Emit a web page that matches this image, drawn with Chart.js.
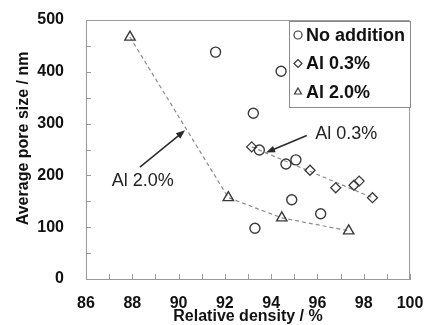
<!DOCTYPE html>
<html>
<head>
<meta charset="utf-8">
<script src="https://cdn.jsdelivr.net/npm/chart.js@4.4.1/dist/chart.umd.min.js"></script>
<style>
  html, body { margin: 0; padding: 0; background: #fff; }
  #wrap { width: 425px; height: 325px; }
</style>
</head>
<body>
<div id="wrap"><canvas id="grafico"></canvas></div>
<script>
// datos
const densidadSin = [91.6, 94.43, 93.23, 93.49, 94.64, 95.07, 94.89, 96.14, 93.3];
const poroSin     = [438, 401, 320, 249, 222, 230, 153, 126, 98];

const densidadAl03 = [93.16, 95.68, 96.79, 97.58, 97.8, 98.38];
const poroAl03     = [255, 210, 176, 181, 189, 157];

const densidadAl20 = [87.9, 92.15, 94.46, 97.35];
const poroAl20     = [467, 157, 118, 93];

const etiquetas = ['No addition', 'Al 0.3%', 'Al 2.0%'];

const puntos = (xs, ys) => xs.map((x, i) => ({ x: x, y: ys[i] }));

const colorMarca = '#3a3a3a';
const colorGuia = '#8c8c8c';
const colorEje = '#9a9a9a';

// linea de tendencia Al 0.3%: del primer al ultimo punto
const tendencia03 = [
  { x: densidadAl03[0], y: poroAl03[0] },
  { x: densidadAl03[densidadAl03.length - 1], y: poroAl03[poroAl03.length - 1] }
];

const extras = {
  id: 'extras',
  afterDraw(chart) {
    const ctx = chart.ctx;
    const area = chart.chartArea;
    const sx = chart.scales.x;
    const sy = chart.scales.y;

    ctx.save();
    // borde superior y derecho
    ctx.strokeStyle = colorEje;
    ctx.lineWidth = 1;
    ctx.beginPath();
    ctx.moveTo(area.left, area.top + 0.5);
    ctx.lineTo(area.right - 0.5, area.top + 0.5);
    ctx.lineTo(area.right - 0.5, area.bottom);
    ctx.stroke();

    // marcas hacia adentro
    ctx.beginPath();
    for (let v = 0; v <= 500; v += 50) {
      const py = Math.round(sy.getPixelForValue(v)) + 0.5;
      ctx.moveTo(area.left, py);
      ctx.lineTo(area.left + 5, py);
    }
    for (let v = 86; v <= 100; v += 1) {
      const px = Math.round(sx.getPixelForValue(v)) + 0.5;
      ctx.moveTo(px, area.bottom);
      ctx.lineTo(px, area.bottom - 5);
    }
    ctx.stroke();

    // flechas con texto
    function flecha(x1, y1, x2, y2) {
      const ax = sx.getPixelForValue(x1), ay = sy.getPixelForValue(y1);
      const bx = sx.getPixelForValue(x2), by = sy.getPixelForValue(y2);
      const ang = Math.atan2(by - ay, bx - ax);
      ctx.strokeStyle = '#2a2a2a';
      ctx.fillStyle = '#2a2a2a';
      ctx.lineWidth = 1.5;
      ctx.beginPath();
      ctx.moveTo(ax, ay);
      ctx.lineTo(bx - 6 * Math.cos(ang), by - 6 * Math.sin(ang));
      ctx.stroke();
      ctx.beginPath();
      ctx.moveTo(bx, by);
      ctx.lineTo(bx - 9 * Math.cos(ang) + 3.5 * Math.sin(ang), by - 9 * Math.sin(ang) - 3.5 * Math.cos(ang));
      ctx.lineTo(bx - 9 * Math.cos(ang) - 3.5 * Math.sin(ang), by - 9 * Math.sin(ang) + 3.5 * Math.cos(ang));
      ctx.closePath();
      ctx.fill();
    }
    flecha(88.33, 216, 90.28, 287);
    flecha(95.54, 277, 93.78, 244);

    ctx.fillStyle = '#222';
    ctx.font = '18px "Liberation Sans", Arial, sans-serif';
    ctx.textBaseline = 'middle';
    ctx.textAlign = 'center';
    ctx.fillText('Al 2.0%', sx.getPixelForValue(88.45), sy.getPixelForValue(190));
    ctx.fillText('Al 0.3%', sx.getPixelForValue(97.25), sy.getPixelForValue(279));

    // leyenda con recuadro
    const lx = 289, ly = 21, lw = 121, lh = 86;
    ctx.fillStyle = '#fff';
    ctx.fillRect(lx, ly, lw, lh);
    ctx.strokeStyle = '#8a8a8a';
    ctx.lineWidth = 1;
    ctx.strokeRect(lx + 0.5, ly + 0.5, lw, lh);
    const estilos = ['circle', 'rectRot', 'triangle'];
    ctx.font = 'bold 18px "Liberation Sans", Arial, sans-serif';
    ctx.textAlign = 'left';
    etiquetas.forEach((txt, i) => {
      const cy = 35 + i * 28.5;
      ctx.strokeStyle = colorMarca;
      ctx.fillStyle = '#fff';
      ctx.lineWidth = 1.2;
      Chart.helpers.drawPoint(ctx, { pointStyle: estilos[i], radius: 4, borderWidth: 1.2 }, 298, cy);
      ctx.fillStyle = '#111';
      ctx.fillText(txt, 306, cy + 1);
    });
    ctx.restore();
  }
};

new Chart(document.getElementById('grafico'), {
  type: 'scatter',
  data: {
    datasets: [
      {
        label: 'tendencia Al 0.3%',
        data: tendencia03,
        showLine: true,
        borderColor: colorGuia,
        borderWidth: 1.2,
        borderDash: [4, 3],
        pointRadius: 0,
        order: 3
      },
      {
        label: etiquetas[2],
        data: puntos(densidadAl20, poroAl20),
        showLine: true,
        borderColor: colorGuia,
        borderWidth: 1.2,
        borderDash: [4, 3],
        pointStyle: 'triangle',
        pointRadius: 6,
        pointBorderColor: colorMarca,
        pointBackgroundColor: 'rgba(255,255,255,0)',
        pointBorderWidth: 1.4,
        order: 2
      },
      {
        label: etiquetas[0],
        data: puntos(densidadSin, poroSin),
        pointStyle: 'circle',
        pointRadius: 5,
        borderColor: colorMarca,
        backgroundColor: 'rgba(255,255,255,0)',
        borderWidth: 1.4,
        order: 1
      },
      {
        label: etiquetas[1],
        data: puntos(densidadAl03, poroAl03),
        pointStyle: 'rectRot',
        pointRadius: 5,
        borderColor: colorMarca,
        backgroundColor: 'rgba(255,255,255,0)',
        borderWidth: 1.3,
        order: 1
      }
    ]
  },
  options: {
    responsive: true,
    maintainAspectRatio: false,
    animation: false,
    events: [],
    layout: { padding: { left: 14, right: 15, top: 20, bottom: 0 } },
    plugins: {
      legend: { display: false },
      tooltip: { enabled: false }
    },
    scales: {
      x: {
        type: 'linear',
        min: 86,
        max: 100,
        afterFit: (scale) => { scale.height = 46; },
        ticks: {
          stepSize: 2,
          padding: 0,
          color: '#111',
          font: { family: '"Liberation Sans", Arial, sans-serif', size: 16, weight: 'bold' }
        },
        grid: { drawOnChartArea: false, drawTicks: true, tickLength: 15, tickColor: 'rgba(0,0,0,0)' },
        border: { color: colorEje, width: 1 },
        title: {
          display: true,
          text: 'Relative density / %',
          color: '#111',
          padding: { top: 0, bottom: 0 },
          font: { family: '"Liberation Sans", Arial, sans-serif', size: 16, weight: 'bold', lineHeight: 1 }
        }
      },
      y: {
        type: 'linear',
        min: 0,
        max: 500,
        afterFit: (scale) => { scale.width = 72; },
        ticks: {
          stepSize: 100,
          padding: 0,
          color: '#111',
          font: { family: '"Liberation Sans", Arial, sans-serif', size: 16, weight: 'bold' }
        },
        grid: { drawOnChartArea: false, drawTicks: true, tickLength: 22, tickColor: 'rgba(0,0,0,0)' },
        border: { color: colorEje, width: 1 },
        title: {
          display: true,
          text: '\u00a0\u00a0\u00a0\u00a0\u00a0Average pore size / nm',
          color: '#111',
          padding: { top: 0, bottom: 0 },
          font: { family: '"Liberation Sans", Arial, sans-serif', size: 16, weight: 'bold', lineHeight: 1.2 }
        }
      }
    }
  },
  plugins: [extras]
});
</script>
</body>
</html>
